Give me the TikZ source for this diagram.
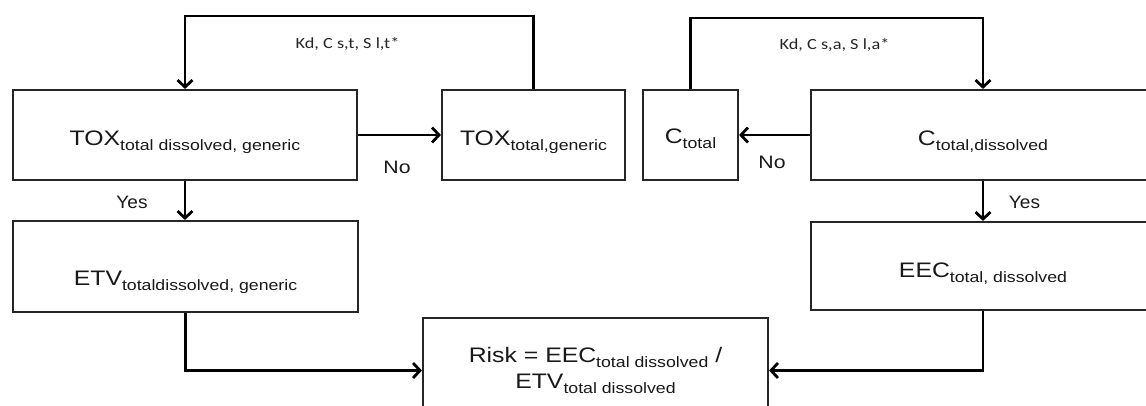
\documentclass[tikz,border=0pt]{standalone}
\usepackage{fontspec}
\usepackage{graphicx}
\setmainfont{Liberation Sans}
\newfontfamily\calib{Carlito}
\usetikzlibrary{arrows.meta}
\newcommand{\sx}[1]{\scalebox{1.18}[1]{#1}}
\newcommand{\sbs}[1]{\raisebox{-5.5pt}{\fontsize{15}{15}\selectfont #1}}
\newcommand{\mtext}[2]{\raisebox{-#1}[0pt][0pt]{\sx{#2}}}
\definecolor{boxline}{HTML}{262626}
\tikzset{
  box/.style={draw=boxline, line width=2.1pt, fill=white, inner sep=0pt,
    font=\fontsize{21}{21}\selectfont, text=black!90},
  conn/.style={line width=2.8pt, black},
  arr/.style={conn, -{Straight Barb[length=7pt,width=15pt]}},
  lab/.style={font=\fontsize{18}{18}\selectfont, text=black!90, inner sep=0pt, anchor=base},
  klab/.style={font=\calib\fontsize{15.5}{15.5}\selectfont, text=black!85, inner sep=0pt, anchor=base}
}
\begin{document}
\begin{tikzpicture}[x=1pt,y=-1pt]
\useasboundingbox (0,0) rectangle (1146,405);
\clip (0,0) rectangle (1146,405);
% boxes
\node[box, minimum width=344pt, minimum height=90pt] (b1) at (185,135)
  {\mtext{10pt}{TOX\sbs{total dissolved, generic}}};
\node[box, minimum width=183pt, minimum height=90pt] (b2) at (533.5,135)
  {\mtext{10pt}{TOX\sbs{total,generic}}};
\node[box, minimum width=95pt, minimum height=90pt] (b3) at (690.5,135)
  {\mtext{8pt}{C\sbs{total}}};
\node[box, minimum width=344pt, minimum height=90pt] (b4) at (983,135)
  {\mtext{10pt}{C\sbs{total,dissolved}}};
\node[box, minimum width=345pt, minimum height=91pt] (b5) at (185.5,266.5)
  {\mtext{18.5pt}{ETV\sbs{totaldissolved, generic}}};
\node[box, minimum width=344pt, minimum height=88pt] (b6) at (983,266)
  {\mtext{11pt}{EEC\sbs{total, dissolved}}};
\node[box, minimum width=345pt, minimum height=105pt, align=center,
  font=\fontsize{21}{26}\selectfont] (b7) at (595.5,370.5)
  {\sx{Risk = EEC\sbs{total dissolved} /}\\ \sx{ETV\sbs{total dissolved}}};
% feedback loops
\coordinate (fl) at (360,16);
\coordinate (fr) at (830,18);
\draw[arr] (b2.north) |- (fl) -| (b1.north);
\draw[arr] (b3.north) |- (fr) -| (b4.north);
% no / yes
\draw[arr] (b1.east) -- (b2.west);
\draw[arr] (b4.west) -- (b3.east);
\draw[arr] (b1.south) -- (b1.south |- b5.north);
\draw[arr] (b4.south) -- (b4.south |- b6.north);
% to risk
\draw[arr] (b5.south) |- (b7.west);
\draw[arr] (b6.south) |- (b7.east);
% labels
\node[klab] (k1) at (347.5,48) {\sx{Kd, C s,t, S l,t*}};
\node[klab] (k2) at (834.5,49) {\sx{Kd, C s,a, S l,a*}};
\node[lab] (no1) at (397,173) {\sx{No}};
\node[lab] (no2) at (772,168) {\sx{No}};
\node[lab] (y1) at (132,208) {\scalebox{1.06}[1]{Yes}};
\node[lab] (y2) at (1024.5,208) {\scalebox{1.06}[1]{Yes}};
\end{tikzpicture}
\end{document}
